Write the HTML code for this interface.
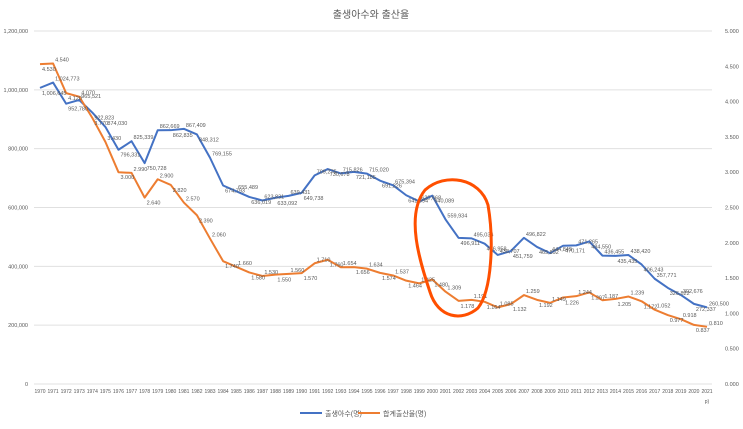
<!DOCTYPE html>
<html><head><meta charset="utf-8"><style>
body{margin:0;background:#fff;width:743px;height:424px;overflow:hidden}
svg{font-family:"Liberation Sans","Noto Sans CJK KR",sans-serif}
</style></head><body>
<svg id="c" width="743" height="424">
<text x="371" y="18" text-anchor="middle" font-size="10" fill="#595959">출생아수와 출산율</text>
<g id="grid"></g><g id="lines"></g><g id="labels"></g>
<path d="M425,190 C445,172 480,178 488,205 C494,240 492,290 478,308 C462,322 438,318 430,292 C420,262 405,215 425,190 Z" fill="none" stroke="#ff4f00" stroke-width="3"/>
<g>
<line x1="300" y1="413" x2="322" y2="413" stroke="#4472c4" stroke-width="2"/>
<text x="325" y="416" font-size="7" fill="#595959">출생아수(명)</text>
<line x1="358" y1="413" x2="380" y2="413" stroke="#ed7d31" stroke-width="2"/>
<text x="383" y="416" font-size="7" fill="#595959">합계출산율(명)</text>
</g>
</svg>
<script>
const years=[];for(let y=1970;y<=2021;y++)years.push(y);
const births=[1006645,1024773,952780,965521,922823,874030,796331,825339,750728,862669,862835,867409,848312,769155,674793,655489,636019,623831,633092,639431,649738,709275,730678,715826,721185,715020,691226,675394,641594,620668,640089,559934,496911,495036,476958,438707,451759,496822,465892,444849,470171,471265,484550,436455,435435,438420,406243,357771,326822,302676,272337,260500];
const tfr=[4.530,4.540,4.120,4.070,3.770,3.430,3.000,2.990,2.640,2.900,2.820,2.570,2.390,2.060,1.740,1.660,1.580,1.530,1.550,1.560,1.570,1.710,1.760,1.654,1.656,1.634,1.574,1.537,1.464,1.425,1.480,1.309,1.178,1.191,1.164,1.085,1.132,1.259,1.192,1.149,1.226,1.244,1.297,1.187,1.205,1.239,1.172,1.052,0.977,0.918,0.837,0.810];
const leftTicks=[0,200000,400000,600000,800000,1000000,1200000];
const rightTicks=[0,0.5,1,1.5,2,2.5,3,3.5,4,4.5,5];
const NS="http://www.w3.org/2000/svg";
const X0=40,X1=707,Y0=384,Y1=31;
const x=i=>X0+(X1-X0)*i/(years.length-1);
const yl=v=>Y0-(Y0-Y1)*v/1200000;
const yr=v=>Y0-(Y0-Y1)*v/5;
function mk(t,a,p){const e=document.createElementNS(NS,t);for(const k in a)e.setAttribute(k,a[k]);p.appendChild(e);return e;}
const g=document.getElementById('grid'),L=document.getElementById('lines'),lb=document.getElementById('labels');
leftTicks.forEach(v=>{
 const ln=mk('line',{x1:34,x2:712,y1:yl(v),y2:yl(v),stroke:'#e0e0e0','stroke-width':1},g);
 
 
 const t=mk('text',{x:28,y:yl(v)+2,'text-anchor':'end','font-size':5.5,fill:'#595959'},g);t.textContent=v.toLocaleString('en-US');
 
 
});
rightTicks.forEach(v=>{
 const t=mk('text',{x:725,y:yr(v)+2,'font-size':5.5,fill:'#595959'},g);t.textContent=v.toFixed(3);
 
 
});
years.forEach((yy,i)=>{
 const t=mk('text',{x:x(i),y:393,'text-anchor':'middle','font-size':5,fill:'#595959'},g);t.textContent=yy;
 
 
});
const pt=mk('text',{x:x(51),y:403,'text-anchor':'middle','font-size':5,fill:'#595959'},g);pt.textContent='p)';


const pb=mk('polyline',{points:births.map((v,i)=>x(i)+','+yl(v)).join(' '),fill:'none',stroke:'#4472c4','stroke-width':2,'stroke-linejoin':'round'},L);


const pr=mk('polyline',{points:tfr.map((v,i)=>x(i)+','+yr(v)).join(' '),fill:'none',stroke:'#ed7d31','stroke-width':2,'stroke-linejoin':'round'},L);


births.forEach((v,i)=>{
 const t=mk('text',{x:x(i)+2,y:yl(v)+(i%2?-2:7),'font-size':5.5,fill:'#595959'},lb);t.textContent=v.toLocaleString('en-US');
 
 
});
tfr.forEach((v,i)=>{
 const t=mk('text',{x:x(i)+2,y:yr(v)+(i%2?-2:7),'font-size':5.5,fill:'#595959'},lb);t.textContent=v.toFixed(3);
 
 
});
</script>
</body></html>
